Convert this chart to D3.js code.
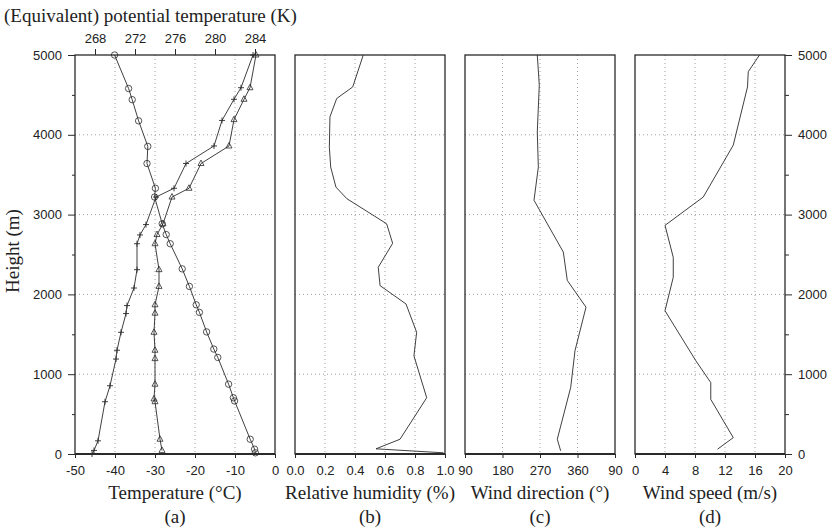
<!DOCTYPE html>
<html><head><meta charset="utf-8">
<script src="https://cdn.jsdelivr.net/npm/d3@7"></script>
<style>
body{margin:0;background:#fff;}
svg{display:block;}
.tick text{font-family:"Liberation Sans",Arial,sans-serif;font-size:13px;fill:#222;}
.ttl{font-family:"Liberation Serif","Times New Roman",serif;font-size:19px;fill:#222;}
</style></head>
<body><svg id="c" width="833" height="529"></svg>
<script>
// ---------- data ----------
const heightTicks = [0, 1000, 2000, 3000, 4000, 5000];
const heightMinor = [500, 1500, 2500, 3500, 4500];

// (a) temperature (circles, bottom axis)
const tempH = [5000, 4580, 4440, 4175, 3855, 3640, 3330, 3220, 2885, 2750, 2635, 2320, 2100, 1870, 1775, 1530, 1315, 1210, 875, 705, 665, 185, 60, 15];
const tempC = [-40.1, -36.6, -35.7, -34.1, -31.8, -32.0, -29.9, -30.1, -28.2, -27.2, -26.2, -23.2, -21.4, -19.7, -18.9, -17.1, -15.3, -14.3, -11.6, -10.4, -10.1, -6.2, -5.1, -4.9];
// (a) potential temperature (plus, top axis)
const thetaH = [5000, 4590, 4445, 4180, 3860, 3640, 3330, 3220, 2875, 2745, 2635, 2310, 2080, 1860, 1760, 1525, 1300, 1190, 855, 655, 165, 45, 0];
const theta = [283.8, 282.6, 281.9, 280.7, 279.9, 277.1, 275.9, 274.1, 273.1, 272.5, 272.2, 272.2, 271.9, 271.2, 271.1, 270.6, 270.2, 270.1, 269.5, 269.0, 268.3, 267.9, 267.7];
// (a) equivalent potential temperature (triangles, top axis)
const thetaEH = [5000, 4590, 4445, 4190, 3860, 3640, 3330, 3220, 2885, 2750, 2635, 2310, 2100, 1870, 1765, 1525, 1300, 1195, 875, 690, 655, 185, 45];
const thetaE = [284.1, 283.5, 282.9, 281.9, 281.4, 278.6, 277.4, 275.7, 274.8, 274.2, 274.0, 274.4, 274.4, 274.0, 274.0, 273.9, 274.0, 274.0, 274.0, 273.9, 274.0, 274.5, 274.7];
// (b) relative humidity
const rhH = [5000, 4600, 4455, 4225, 3845, 3595, 3345, 3200, 2885, 2640, 2340, 2110, 1880, 1525, 1230, 705, 185, 65, 15];
const rh = [0.455, 0.385, 0.278, 0.233, 0.229, 0.238, 0.273, 0.345, 0.611, 0.651, 0.555, 0.567, 0.74, 0.811, 0.793, 0.878, 0.70, 0.54, 0.99];
// (c) wind direction
const wdH = [5000, 4625, 4035, 3595, 3180, 2530, 2175, 1840, 1295, 835, 185, 40];
const wd = [263.5, 268.3, 263.5, 266, 255.6, 326, 335.5, 380.4, 354, 343.7, 311.5, 319.6];
// (d) wind speed
const wsH = [5000, 4790, 4600, 3870, 3220, 2865, 2465, 2215, 1795, 1170, 895, 685, 205, 60];
const ws = [16.6, 15.1, 15.0, 13.1, 9.1, 4.0, 5.1, 5.1, 4.0, 8.1, 10.1, 10.1, 13.1, 11.0];

const tempTicks = [-50, -40, -30, -20, -10, 0];
const thetaTicks = [268, 272, 276, 280, 284];
const rhTicks = [0, 0.2, 0.4, 0.6, 0.8, 1.0];
const wdTicks = [90, 180, 270, 360, 450];
const wsTicks = [0, 4, 8, 12, 16, 20];

const xTitles = ["Temperature (\u00B0C)", "Relative humidity (%)", "Wind direction (\u00B0)", "Wind speed (m/s)"];
const panelLetters = ["(a)", "(b)", "(c)", "(d)"];

// ---------- layout ----------
const svg = d3.select("#c");
const plotTop = 55, plotBottom = 454;
const panels = [
  {x0: 75, x1: 275, dom: [-50, 0], ticks: tempTicks, fmt: d => String(d)},
  {x0: 295, x1: 445, dom: [0, 1], ticks: rhTicks, fmt: d => d.toFixed(1)},
  {x0: 465, x1: 615, dom: [90, 450], ticks: wdTicks, fmt: d => String(d > 360 ? d - 360 : d)},
  {x0: 635, x1: 785, dom: [0, 20], ticks: wsTicks, fmt: d => String(d)}
];
const y = d3.scaleLinear().domain([0, 5000]).range([plotBottom, plotTop]);
const ink = "#2a2a2a";

panels.forEach((p, i) => {
  p.x = d3.scaleLinear().domain(p.dom).range([p.x0, p.x1]);
  const g = svg.append("g");
  const inner = p.ticks.slice(1, -1);
  g.selectAll(".vg").data(inner).join("line")
    .attr("x1", d => p.x(d)).attr("x2", d => p.x(d))
    .attr("y1", plotTop).attr("y2", plotBottom)
    .attr("stroke", "#888").attr("stroke-width", 0.8).attr("stroke-dasharray", "1,3");
  g.selectAll(".hg").data(heightTicks.slice(1, -1)).join("line")
    .attr("x1", p.x0).attr("x2", p.x1)
    .attr("y1", d => y(d)).attr("y2", d => y(d))
    .attr("stroke", "#888").attr("stroke-width", 0.8).attr("stroke-dasharray", "1,3");
  const ax = svg.append("g").attr("transform", `translate(0,${plotBottom})`)
    .call(d3.axisBottom(p.x).tickValues(p.ticks).tickFormat(p.fmt).tickSize(4).tickPadding(8));
  ax.select(".domain").remove();
  svg.append("rect").attr("x", p.x0).attr("y", plotTop).attr("width", p.x1 - p.x0).attr("height", plotBottom - plotTop)
    .attr("fill", "none").attr("stroke", ink).attr("stroke-width", 1.3);
  svg.append("line").attr("x1", p.x0).attr("x2", p.x1).attr("y1", plotBottom).attr("y2", plotBottom)
    .attr("stroke", ink).attr("stroke-width", 2.2);
  svg.append("text").attr("class", "ttl").attr("x", (p.x0 + p.x1) / 2).attr("y", 499)
    .attr("text-anchor", "middle").text(xTitles[i]);
  svg.append("text").attr("class", "ttl").attr("x", (p.x0 + p.x1) / 2).attr("y", 523)
    .attr("text-anchor", "middle").text(panelLetters[i]);
});

const la = svg.append("g").attr("transform", `translate(${panels[0].x0},0)`)
  .call(d3.axisLeft(y).tickValues(heightTicks).tickFormat(d => String(d)).tickSize(7).tickPadding(6));
la.select(".domain").remove();
const lm = svg.append("g").attr("transform", `translate(${panels[0].x0},0)`)
  .call(d3.axisLeft(y).tickValues(heightMinor).tickFormat("").tickSize(3));
lm.select(".domain").remove();
const ra = svg.append("g").attr("transform", `translate(${panels[3].x1},0)`)
  .call(d3.axisRight(y).tickValues(heightTicks).tickFormat(d => String(d)).tickSize(7).tickPadding(6));
ra.select(".domain").remove();
const rm = svg.append("g").attr("transform", `translate(${panels[3].x1},0)`)
  .call(d3.axisRight(y).tickValues(heightMinor).tickFormat("").tickSize(4));
rm.select(".domain").remove();

const xTheta = d3.scaleLinear().domain([266, 286]).range([panels[0].x0, panels[0].x1]);
const ta = svg.append("g").attr("transform", `translate(0,${plotTop})`)
  .call(d3.axisTop(xTheta).tickValues(thetaTicks).tickFormat(d => String(d)).tickSize(6).tickPadding(6));
ta.select(".domain").remove();
svg.selectAll(".tick line").attr("stroke", ink);

svg.append("text").attr("class", "ttl").attr("x", 4).attr("y", 22).text("(Equivalent) potential temperature (K)");
svg.append("text").attr("class", "ttl").attr("transform", "translate(19,251) rotate(-90)")
  .attr("text-anchor", "middle").text("Height (m)");

// ---------- series ----------
function drawLine(xs, hs, xsc) {
  const pts = xs.map((v, i) => [xsc(v), y(hs[i])]);
  svg.append("path").attr("d", d3.line()(pts)).attr("fill", "none")
    .attr("stroke", ink).attr("stroke-width", 0.9);
  return pts;
}
const xa = panels[0].x;
const pc = drawLine(tempC, tempH, xa);
svg.append("g").selectAll("circle").data(pc).join("circle").attr("cx", d => d[0]).attr("cy", d => d[1]).attr("r", 3.2)
  .attr("fill", "none").attr("stroke", ink).attr("stroke-width", 0.8);
const pp = drawLine(theta, thetaH, xTheta);
svg.append("g").selectAll("path").data(pp).join("path")
  .attr("d", d => `M${d[0]-3},${d[1]}H${d[0]+3}M${d[0]},${d[1]-3}V${d[1]+3}`)
  .attr("stroke", ink).attr("stroke-width", 0.9);
const pt = drawLine(thetaE, thetaEH, xTheta);
svg.append("g").selectAll("path").data(pt).join("path")
  .attr("d", d => `M${d[0]},${d[1]-3.5}L${d[0]+3},${d[1]+2}L${d[0]-3},${d[1]+2}Z`)
  .attr("fill", "none").attr("stroke", ink).attr("stroke-width", 0.8);

drawLine(rh, rhH, panels[1].x);
drawLine(wd, wdH, panels[2].x);
drawLine(ws, wsH, panels[3].x);
</script></body></html>
